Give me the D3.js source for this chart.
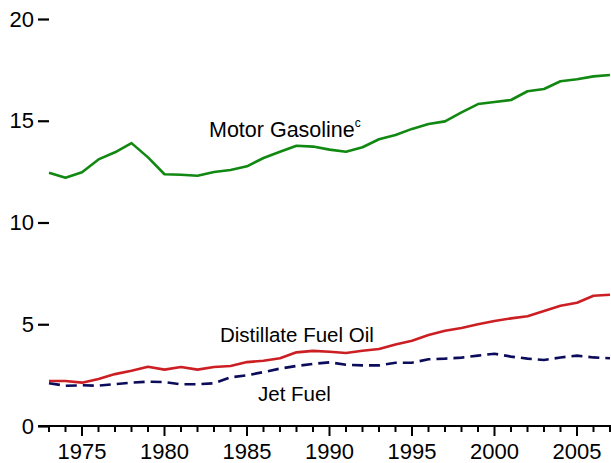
<!DOCTYPE html>
<html>
<head>
<meta charset="utf-8">
<script src="https://cdn.jsdelivr.net/npm/d3@7"></script>
<style>
  body { margin: 0; background: #fff; }
  svg { display: block; font-family: "Liberation Sans", Arial, sans-serif; }
</style>
</head>
<body>
<script>
const width = 611;
const height = 463;

const years = d3.range(1973, 2008);

const gasoline = [12.45, 12.2, 12.47, 13.1, 13.45, 13.9, 13.2, 12.37, 12.35, 12.3,
    12.48, 12.58, 12.76, 13.17, 13.48, 13.77, 13.73, 13.58, 13.48, 13.7,
    14.09, 14.3, 14.6, 14.84, 14.97, 15.41, 15.82, 15.92, 16.02, 16.45,
    16.56, 16.94, 17.04, 17.18, 17.25];

const distillate = [2.21, 2.21, 2.13, 2.31, 2.55, 2.72, 2.91, 2.77, 2.9, 2.77,
    2.9, 2.95, 3.14, 3.21, 3.33, 3.62, 3.69, 3.65, 3.59, 3.7,
    3.78, 4.01, 4.19, 4.47, 4.68, 4.82, 5.0, 5.16, 5.29, 5.39,
    5.65, 5.91, 6.06, 6.4, 6.45];

const jetFuel = [2.1, 1.98, 2.0, 1.98, 2.06, 2.13, 2.18, 2.16, 2.05, 2.05,
    2.1, 2.39, 2.49, 2.65, 2.82, 2.95, 3.05, 3.13, 3.01, 2.98,
    2.98, 3.11, 3.11, 3.28, 3.31, 3.36, 3.46, 3.55, 3.41, 3.31,
    3.24, 3.37, 3.46, 3.37, 3.33];

const yTicks = [0, 5, 10, 15, 20];
const xLabelYears = [1975, 1980, 1985, 1990, 1995, 2000, 2005];

const svg = d3.select("body").append("svg")
    .attr("width", width)
    .attr("height", height);

const x = d3.scaleLinear().domain([1973, 2007]).range([49, 610]);
const y = d3.scaleLinear().domain([0, 20]).range([426, 19]);

// y axis: just short dashes and numbers, no spine
const yAxis = svg.append("g")
    .attr("transform", "translate(49,0)")
    .call(d3.axisLeft(y).tickValues(yTicks).tickSize(11).tickPadding(4));
yAxis.select(".domain").remove();
yAxis.selectAll("line").attr("stroke", "#000").attr("stroke-width", 2.2);
yAxis.selectAll("text")
    .attr("font-size", "22px")
    .attr("font-family", "Liberation Sans, Arial, sans-serif")
    .attr("fill", "#000");

// x axis: minor tick every year, longer tick every 5 years
svg.append("line")
    .attr("x1", 38).attr("x2", width)
    .attr("y1", y(0)).attr("y2", y(0))
    .attr("stroke", "#000").attr("stroke-width", 2.2);

svg.append("g")
    .selectAll("line")
    .data(years)
    .join("line")
    .attr("x1", d => x(d)).attr("x2", d => x(d))
    .attr("y1", y(0))
    .attr("y2", d => y(0) + (d % 5 === 0 ? 10 : 6))
    .attr("stroke", "#000")
    .attr("stroke-width", 2);

svg.append("g")
    .selectAll("text")
    .data(xLabelYears)
    .join("text")
    .attr("x", d => x(d))
    .attr("y", 459)
    .attr("text-anchor", "middle")
    .attr("font-size", "22px")
    .text(d => d);

const line = d3.line()
    .x((d, i) => x(years[i]))
    .y(d => y(d));

svg.append("path")
    .datum(gasoline)
    .attr("fill", "none")
    .attr("stroke", "#118811")
    .attr("stroke-width", 2.6)
    .attr("stroke-linejoin", "round")
    .attr("d", line);

svg.append("path")
    .datum(distillate)
    .attr("fill", "none")
    .attr("stroke", "#cc1f24")
    .attr("stroke-width", 2.6)
    .attr("stroke-linejoin", "round")
    .attr("d", line);

svg.append("path")
    .datum(jetFuel)
    .attr("fill", "none")
    .attr("stroke", "#0c0c5c")
    .attr("stroke-width", 2.6)
    .attr("stroke-dasharray", "11,6")
    .attr("d", line);

// series labels
const gasLabel = svg.append("text")
    .attr("x", 209)
    .attr("y", 137)
    .attr("font-size", "21.5px");
gasLabel.append("tspan").text("Motor Gasoline");
gasLabel.append("tspan")
    .attr("font-size", "12px")
    .attr("dy", -10)
    .text("c");

svg.append("text")
    .attr("x", 220)
    .attr("y", 342)
    .attr("font-size", "20.5px")
    .text("Distillate Fuel Oil");

svg.append("text")
    .attr("x", 258)
    .attr("y", 401)
    .attr("font-size", "20.5px")
    .text("Jet Fuel");
</script>
</body>
</html>
